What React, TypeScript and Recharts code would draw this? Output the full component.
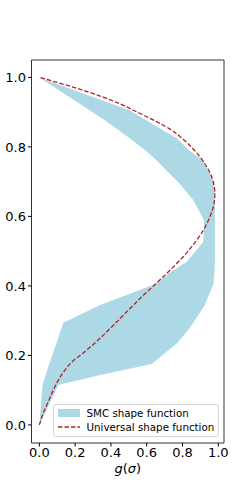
import React from 'react';
import { ComposedChart, Area, Line, XAxis, YAxis, ReferenceArea, Label } from 'recharts';

// band (SMC shape function): at each sigma, the g range covered
const bandSigma = [0, 0.115, 0.144, 0.175, 0.235, 0.279, 0.294, 0.345, 0.407, 0.435, 0.469, 0.527, 0.56, 0.589, 0.647, 0.675, 0.704, 0.714, 0.761, 0.787, 0.824, 0.879, 0.905, 1.0];
const bandLow = [0, 0.018, 0.035, 0.055, 0.095, 0.124, 0.134, 0.339, 0.656, 0.72, 0.823, 0.916, 0.92, 0.92, 0.86, 0.815, 0.767, 0.745, 0.656, 0.6, 0.507, 0.36, 0.283, 0];
const bandHigh = [0, 0.106, 0.339, 0.628, 0.77, 0.84, 0.86, 0.925, 0.974, 0.978, 0.981, 0.981, 0.981, 0.981, 0.981, 0.981, 0.968, 0.963, 0.916, 0.845, 0.77, 0.59, 0.507, 0];

// universal shape function, g read at each sigma
const curveSigma = [0, 0.034, 0.067, 0.1, 0.129, 0.153, 0.18, 0.205, 0.24, 0.29, 0.335, 0.37, 0.402, 0.436, 0.484, 0.532, 0.56, 0.589, 0.627, 0.666, 0.714, 0.771, 0.819, 0.851, 0.876, 0.9, 0.924, 0.962, 1.0];
const curveG = [0, 0.022, 0.05, 0.078, 0.106, 0.136, 0.18, 0.24, 0.32, 0.42, 0.507, 0.575, 0.642, 0.712, 0.804, 0.88, 0.916, 0.945, 0.972, 0.981, 0.963, 0.898, 0.81, 0.73, 0.642, 0.547, 0.45, 0.25, 0];

const ticks = [0, 0.2, 0.4, 0.6, 0.8, 1.0];
const seriesNames = ['SMC shape function', 'Universal shape function'];

const bandData = bandSigma.map((s, i) => ({ s, band: [bandLow[i], bandHigh[i]] }));
const curveData = curveSigma.map((s, i) => ({ s, g: curveG[i] }));

const FONT = '"DejaVu Sans", sans-serif';
const BAND = '#ADD8E6';
const CURVE = '#B22222';

const xDomain: [number, number] = [-0.044, 1.032];
const yDomain: [number, number] = [-0.052, 1.05];

const AxisTitle = (props: any) => {
  const { viewBox } = props;
  const cx = viewBox.x + viewBox.width / 2;
  return (
    <text x={cx} y={473} textAnchor="middle" fontFamily={FONT} fontSize={13} fill="#000">
      <tspan fontStyle="italic">g</tspan>
      <tspan>(</tspan>
      <tspan fontStyle="italic">σ</tspan>
      <tspan>)</tspan>
    </text>
  );
};

const LegendBox = () => (
  <div
    style={{
      position: 'absolute',
      left: 52.5,
      top: 404,
      width: 166,
      height: 33,
      boxSizing: 'border-box',
      border: '1px solid #d6d6d6',
      borderRadius: 3,
      background: 'rgba(255,255,255,0.8)',
      fontFamily: FONT,
      fontSize: 10.3,
      color: '#000',
    }}
  >
    <div style={{ position: 'absolute', left: 4, top: 4, width: 22, height: 8, background: BAND }} />
    <div style={{ position: 'absolute', left: 33, top: 2, lineHeight: '12px', whiteSpace: 'nowrap' }}>{seriesNames[0]}</div>
    <svg style={{ position: 'absolute', left: 4, top: 19 }} width={22} height={6}>
      <line x1={0} y1={3} x2={22} y2={3} stroke={CURVE} strokeWidth={1.3} strokeDasharray="4.5 2" />
    </svg>
    <div style={{ position: 'absolute', left: 33, top: 16, lineHeight: '12px', whiteSpace: 'nowrap' }}>{seriesNames[1]}</div>
  </div>
);

export default function App() {
  return (
    <div style={{ position: 'absolute', left: 0, top: 0, width: 249, height: 498, background: '#fff' }}>
      <ComposedChart width={249} height={498} layout="vertical" margin={{ top: 60, right: 25, bottom: 0, left: 0 }}>
        <XAxis
          type="number"
          dataKey="g"
          domain={xDomain}
          ticks={ticks}
          allowDataOverflow
          height={55}
          tickSize={3.5}
          tickMargin={1}
          axisLine={false}
          tickLine={{ stroke: '#000' }}
          tick={{ fontSize: 13, fill: '#000', fontFamily: FONT }}
          tickFormatter={(v: number) => v.toFixed(1)}
        >
          <Label content={<AxisTitle />} />
        </XAxis>
        <YAxis
          type="number"
          dataKey="s"
          domain={yDomain}
          ticks={ticks}
          reversed
          allowDataOverflow
          width={31.5}
          tickSize={3.5}
          tickMargin={2}
          axisLine={false}
          tickLine={{ stroke: '#000' }}
          tick={{ fontSize: 13, fill: '#000', fontFamily: FONT }}
          tickFormatter={(v: number) => v.toFixed(1)}
        />
        <Area
          data={bandData}
          dataKey="band"
          type="linear"
          fill={BAND}
          fillOpacity={1}
          stroke="none"
          isAnimationActive={false}
        />
        <Line
          data={curveData}
          dataKey="g"
          type="monotoneY"
          stroke={CURVE}
          strokeWidth={1.3}
          strokeDasharray="4.5 2"
          dot={false}
          isAnimationActive={false}
        />
        <ReferenceArea
          x1={xDomain[0]}
          x2={xDomain[1]}
          y1={yDomain[0]}
          y2={yDomain[1]}
          fill="none"
          stroke="#333"
          strokeWidth={1}
          ifOverflow="visible"
        />
      </ComposedChart>
      <LegendBox />
    </div>
  );
}
